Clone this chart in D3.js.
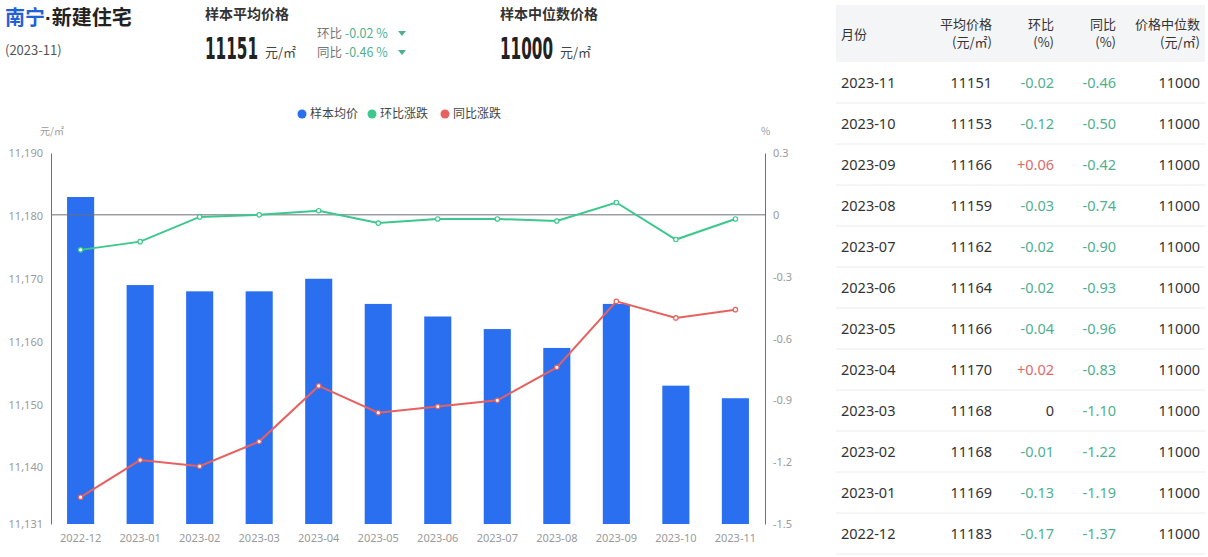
<!DOCTYPE html>
<html><head><meta charset="utf-8">
<script src="https://cdn.jsdelivr.net/npm/d3@7"></script>
<style>
body{margin:0;background:#fff;font-family:"Noto Sans CJK SC","Noto Sans",sans-serif;}
svg text{font-family:"Noto Sans CJK SC","Noto Sans",sans-serif;}
</style></head>
<body>
<svg id="c" width="1208" height="557"></svg>
<script>
const months = ["2022-12","2023-01","2023-02","2023-03","2023-04","2023-05","2023-06","2023-07","2023-08","2023-09","2023-10","2023-11"];
const avgPrice = [11183,11169,11168,11168,11170,11166,11164,11162,11159,11166,11153,11151];
const momChange = [-0.17,-0.13,-0.01,0,0.02,-0.04,-0.02,-0.02,-0.03,0.06,-0.12,-0.02];
const yoyChange = [-1.37,-1.19,-1.22,-1.10,-0.83,-0.96,-0.93,-0.90,-0.74,-0.42,-0.50,-0.46];
const medianPrice = [11000,11000,11000,11000,11000,11000,11000,11000,11000,11000,11000,11000];
const leftTicks = [11131,11140,11150,11160,11170,11180,11190];
const rightTicks = [-1.5,-1.2,-0.9,-0.6,-0.3,0,0.3];
const legendItems = ["样本均价","环比涨跌","同比涨跌"];

const C = {bar:"#2a6ff0", green:"#3cc88c", red:"#e8605f", axis:"#6e7079", tick:"#9a9a9a", up:"#e06a6a", down:"#4fb08f"};
const svg = d3.select("#c");

// header
const h = svg.append("g");
const t = h.append("text").attr("x",5).attr("y",25).attr("font-size",20).attr("font-weight","bold");
t.append("tspan").attr("fill","#1f62d6").text("南宁");
t.append("tspan").attr("fill","#222").style("font-family","'Liberation Sans',sans-serif").text("·");
t.append("tspan").attr("fill","#222").text("新建住宅");
h.append("text").attr("x",5).attr("y",55).attr("font-size",13).attr("fill","#555").text("(2023-11)");
h.append("text").attr("x",205).attr("y",19).attr("font-size",14).attr("font-weight","bold").attr("fill","#333").text("样本平均价格");
h.append("text").attr("x",500).attr("y",19).attr("font-size",14).attr("font-weight","bold").attr("fill","#333").text("样本中位数价格");
const big = (x,v)=>h.append("text").attr("transform",`translate(${x},59) scale(0.77,1.35)`).attr("font-size",22).attr("font-weight","bold")
  .attr("fill","#222").style("font-family","'DejaVu Sans Condensed','DejaVu Sans',sans-serif").text(v);
big(205, String(avgPrice[11]));
big(500, String(medianPrice[11]));
h.append("text").attr("x",265).attr("y",57).attr("font-size",13).attr("fill","#444").text("元/㎡");
h.append("text").attr("x",560).attr("y",57).attr("font-size",13).attr("fill","#444").text("元/㎡");
const chg = (y,label,v)=>{
  const tt = h.append("text").attr("x",317).attr("y",y).attr("font-size",12.5);
  tt.append("tspan").attr("fill","#777").text(label+" ");
  tt.append("tspan").attr("fill",C.down).text((v>0?"+":"")+v.toFixed(2)+" %");
  h.append("path").attr("d",`M${398},${y-7} L${406},${y-7} L${402},${y-2} Z`).attr("fill",C.down);
};
chg(38,"环比",momChange[11]);
chg(57,"同比",yoyChange[11]);

// chart
const L=51, R=765, T=153, B=524;
const x = d3.scaleBand().domain(months).range([L,R]).paddingInner(0.545).paddingOuter(0.27);
const yL = d3.scaleLinear().domain([11131,11190]).range([B,T]);
const yR = d3.scaleLinear().domain([-1.5,0.3]).range([B,T]);

svg.append("g").selectAll("rect").data(months).join("rect")
  .attr("x",d=>x(d)).attr("width",x.bandwidth())
  .attr("y",(d,i)=>yL(avgPrice[i])).attr("height",(d,i)=>B-yL(avgPrice[i]))
  .attr("fill",C.bar);

svg.append("line").attr("x1",L).attr("x2",R).attr("y1",yR(0)).attr("y2",yR(0)).attr("stroke",C.axis).attr("stroke-width",1);

const styleAxis = g=>{
  g.select(".domain").attr("stroke",C.axis);
  g.selectAll("text").attr("fill",C.tick).attr("font-size",11).style("font-family","'Liberation Sans Narrow','Noto Sans',sans-serif");
};
svg.append("g").attr("transform",`translate(${L},0)`)
  .call(d3.axisLeft(yL).tickValues(leftTicks).tickFormat(d3.format(",")).tickSize(0).tickPadding(8).tickSizeOuter(0))
  .call(styleAxis);
svg.append("g").attr("transform",`translate(${R},0)`)
  .call(d3.axisRight(yR).tickValues(rightTicks).tickFormat(d=>d===0?"0":String(d)).tickSize(0).tickPadding(8).tickSizeOuter(0))
  .call(styleAxis);
svg.append("g").attr("transform",`translate(0,${B})`)
  .call(d3.axisBottom(x).tickSize(0).tickPadding(10))
  .call(g=>g.select(".domain").remove())
  .call(styleAxis);

svg.append("text").attr("x",40).attr("y",135).attr("font-size",10).attr("fill",C.tick).text("元/㎡");
svg.append("text").attr("x",761).attr("y",135).attr("font-size",10).attr("fill",C.tick).text("%");

const cx = d=>x(d)+x.bandwidth()/2;
const drawLine=(vals,color)=>{
  const line = d3.line().x((d,i)=>cx(months[i])).y(d=>yR(d));
  svg.append("path").datum(vals).attr("d",line).attr("fill","none").attr("stroke",color).attr("stroke-width",2);
  svg.append("g").selectAll("circle").data(vals).join("circle")
    .attr("cx",(d,i)=>cx(months[i])).attr("cy",d=>yR(d)).attr("r",2.2)
    .attr("fill","#fff").attr("stroke",color).attr("stroke-width",1.2);
};
drawLine(momChange,C.green);
drawLine(yoyChange,C.red);

// legend
const lg = svg.append("g");
const lgx=[302,372,445], lgc=[C.bar,C.green,C.red];
legendItems.forEach((s,i)=>{
  lg.append("circle").attr("cx",lgx[i]).attr("cy",114).attr("r",4.5).attr("fill",lgc[i]);
  lg.append("text").attr("x",lgx[i]+8).attr("y",118).attr("font-size",12).attr("fill","#444").text(s);
});

// table
const tb = svg.append("g");
tb.append("rect").attr("x",836).attr("y",5).attr("width",369).attr("height",57).attr("fill","#f4f5f7");
const colR=[null,992,1054,1116,1200];
tb.append("text").attr("x",841).attr("y",39).attr("font-size",13).attr("fill","#333").text("月份");
const hdr=[["平均价格","(元/㎡)"],["环比","(%)"],["同比","(%)"],["价格中位数","(元/㎡)"]];
hdr.forEach((p,i)=>{
  tb.append("text").attr("x",colR[i+1]).attr("y",29).attr("text-anchor","end").attr("font-size",13).attr("fill","#333").text(p[0]);
  tb.append("text").attr("x",colR[i+1]).attr("y",47).attr("text-anchor","end").attr("font-size",13).attr("fill","#333").text(p[1]);
});
const rowH=41, row0=62;
const idx = d3.range(months.length).reverse();
const fmt=v=>v===0?"0":(v>0?"+":"")+v.toFixed(2);
const col=v=>v>0?C.up:(v<0?C.down:"#333");
idx.forEach((k,r)=>{
  const yc=row0+r*rowH+rowH/2+5;
  tb.append("line").attr("x1",836).attr("x2",1205).attr("y1",row0+(r+1)*rowH).attr("y2",row0+(r+1)*rowH).attr("stroke","#ececec");
  const txt=(xx,s,c,anchor)=>tb.append("text").attr("x",xx).attr("y",yc).attr("font-size",14.5).attr("fill",c)
    .attr("text-anchor",anchor).style("font-family","'Noto Sans',sans-serif").text(s);
  txt(841,months[k],"#333","start");
  txt(colR[1],String(avgPrice[k]),"#333","end");
  txt(colR[2],fmt(momChange[k]),col(momChange[k]),"end");
  txt(colR[3],fmt(yoyChange[k]),col(yoyChange[k]),"end");
  txt(colR[4],String(medianPrice[k]),"#333","end");
});
</script>
</body></html>
